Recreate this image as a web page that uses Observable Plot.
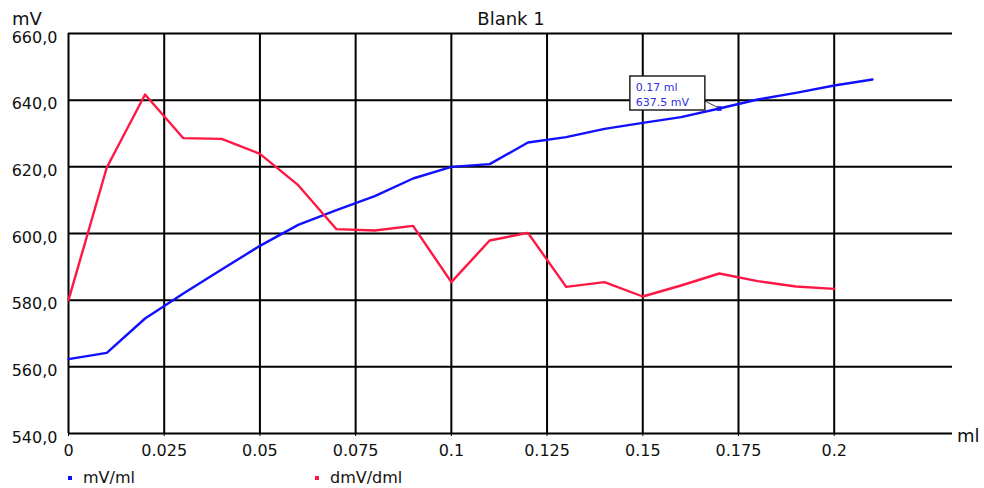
<!DOCTYPE html>
<html><head><meta charset="utf-8">
<script src="https://cdn.jsdelivr.net/npm/d3@7"></script>
<script src="https://cdn.jsdelivr.net/npm/@observablehq/plot@0.6"></script>
<style>
body{margin:0;background:#fff;}
#wrap{position:relative;width:984px;height:488px;}
</style></head><body><div id="wrap"></div>
<script>
// ---- data ----
const volume = [0,0.01,0.02,0.03,0.04,0.05,0.06,0.07,0.08,0.09,0.1,0.11,0.12,0.13,0.14,0.15,0.16,0.17,0.18,0.19,0.2,0.21];
const mVValues = [562.3,564.2,574.5,582.0,589.2,596.3,602.6,607.0,611.2,616.5,620.0,620.8,627.3,628.9,631.4,633.2,634.9,637.5,640.2,642.2,644.4,646.2];
const dmVVolume = [0,0.01,0.02,0.03,0.04,0.05,0.06,0.07,0.08,0.09,0.1,0.11,0.12,0.13,0.14,0.15,0.16,0.17,0.18,0.19,0.2];
const dmVValues = [580.0,619.8,641.7,628.6,628.4,623.9,614.5,601.3,600.9,602.3,585.4,597.9,600.2,584.0,585.4,581.1,584.4,588.0,585.7,584.1,583.4];
const xTicks = [0,0.025,0.05,0.075,0.1,0.125,0.15,0.175,0.2];
const xTickLabels = ["0","0.025","0.05","0.075","0.1","0.125","0.15","0.175","0.2"];
const yTicks = [540,560,580,600,620,640,660];
const seriesNames = ["mV/ml","dmV/dml"];
const seriesColors = ["#1010ff","#ff1744"];
const title = "Blank 1";
const yLabel = "mV";
const xLabel = "ml";
const tipVolume = 0.17;
const tipValue = 637.5;
const tipLines = ["0.17 ml","637.5 mV"];

const rows = volume.map((v,i)=>({v, y:mVValues[i], s:seriesNames[0]}))
  .concat(dmVVolume.map((v,i)=>({v, y:dmVValues[i], s:seriesNames[1]})));

const font = "DejaVu Sans, sans-serif";
const plot = Plot.plot({
  width:984, height:488,
  marginTop:33, marginBottom:55, marginLeft:68, marginRight:32,
  style:{fontFamily:font, fontSize:"16px", color:"#111", background:"white", overflow:"visible"},
  x:{domain:[0,0.2309]},
  y:{domain:[540,660]},
  color:{domain:seriesNames, range:seriesColors},
  marks:[
    Plot.ruleX(xTicks,{x:d=>d, y1:540, y2:660, stroke:"#000", strokeWidth:2}),
    Plot.ruleY(yTicks,{y:d=>d, stroke:"#000", strokeWidth:2}),
    Plot.line(rows,{x:"v", y:"y", z:"s", stroke:"s", strokeWidth:2.4}),
    Plot.dot([{v:tipVolume,y:tipValue}],{x:"v", y:"y", symbol:"square", r:2.6, fill:seriesColors[0]}),
    Plot.axisX(xTicks,{tickSize:3, tickPadding:8, tickFormat:(d,i)=>xTickLabels[i], label:null, stroke:"#000"}),
    Plot.axisY(yTicks,{tickSize:0, tickPadding:11, dy:4, tickFormat:d=>d.toFixed(1).replace(".",","), label:null})
  ]
});
document.getElementById("wrap").appendChild(plot);

const svg = d3.select(plot);
const xs = plot.scale("x"), ys = plot.scale("y");
const addText = (t,x,y,size,anchor,fill)=>svg.append("text").text(t).attr("x",x).attr("y",y)
  .attr("font-family",font).attr("font-size",size).attr("text-anchor",anchor||"start").attr("fill",fill||"#111");

addText(title, 511, 25, 18, "middle");
addText(yLabel, 12, 25, 18, "start");
addText(xLabel, 957, 442, 18, "start");

// legend
const legendX = [68, 315];
seriesNames.forEach((n,i)=>{
  svg.append("rect").attr("x",legendX[i]).attr("y",476).attr("width",4).attr("height",4).attr("fill",seriesColors[i]);
  addText(n, legendX[i]+15, 483, 16, "start");
});

// tooltip
const px = xs.apply(tipVolume), py = ys.apply(tipValue);
const bx = px - 89, by = py - 32, bw = 75, bh = 34;
svg.append("line").attr("x1",bx+bw).attr("y1",by+bh-9).attr("x2",px).attr("y2",py).attr("stroke","#333").attr("stroke-width",1);
svg.append("rect").attr("x",bx).attr("y",by).attr("width",bw).attr("height",bh).attr("fill","white").attr("stroke","#222").attr("stroke-width",1.5);
addText(tipLines[0], bx+6, by+15, 11, "start", "#3030e0");
addText(tipLines[1], bx+6, by+30, 11, "start", "#3030e0");
</script></body></html>
